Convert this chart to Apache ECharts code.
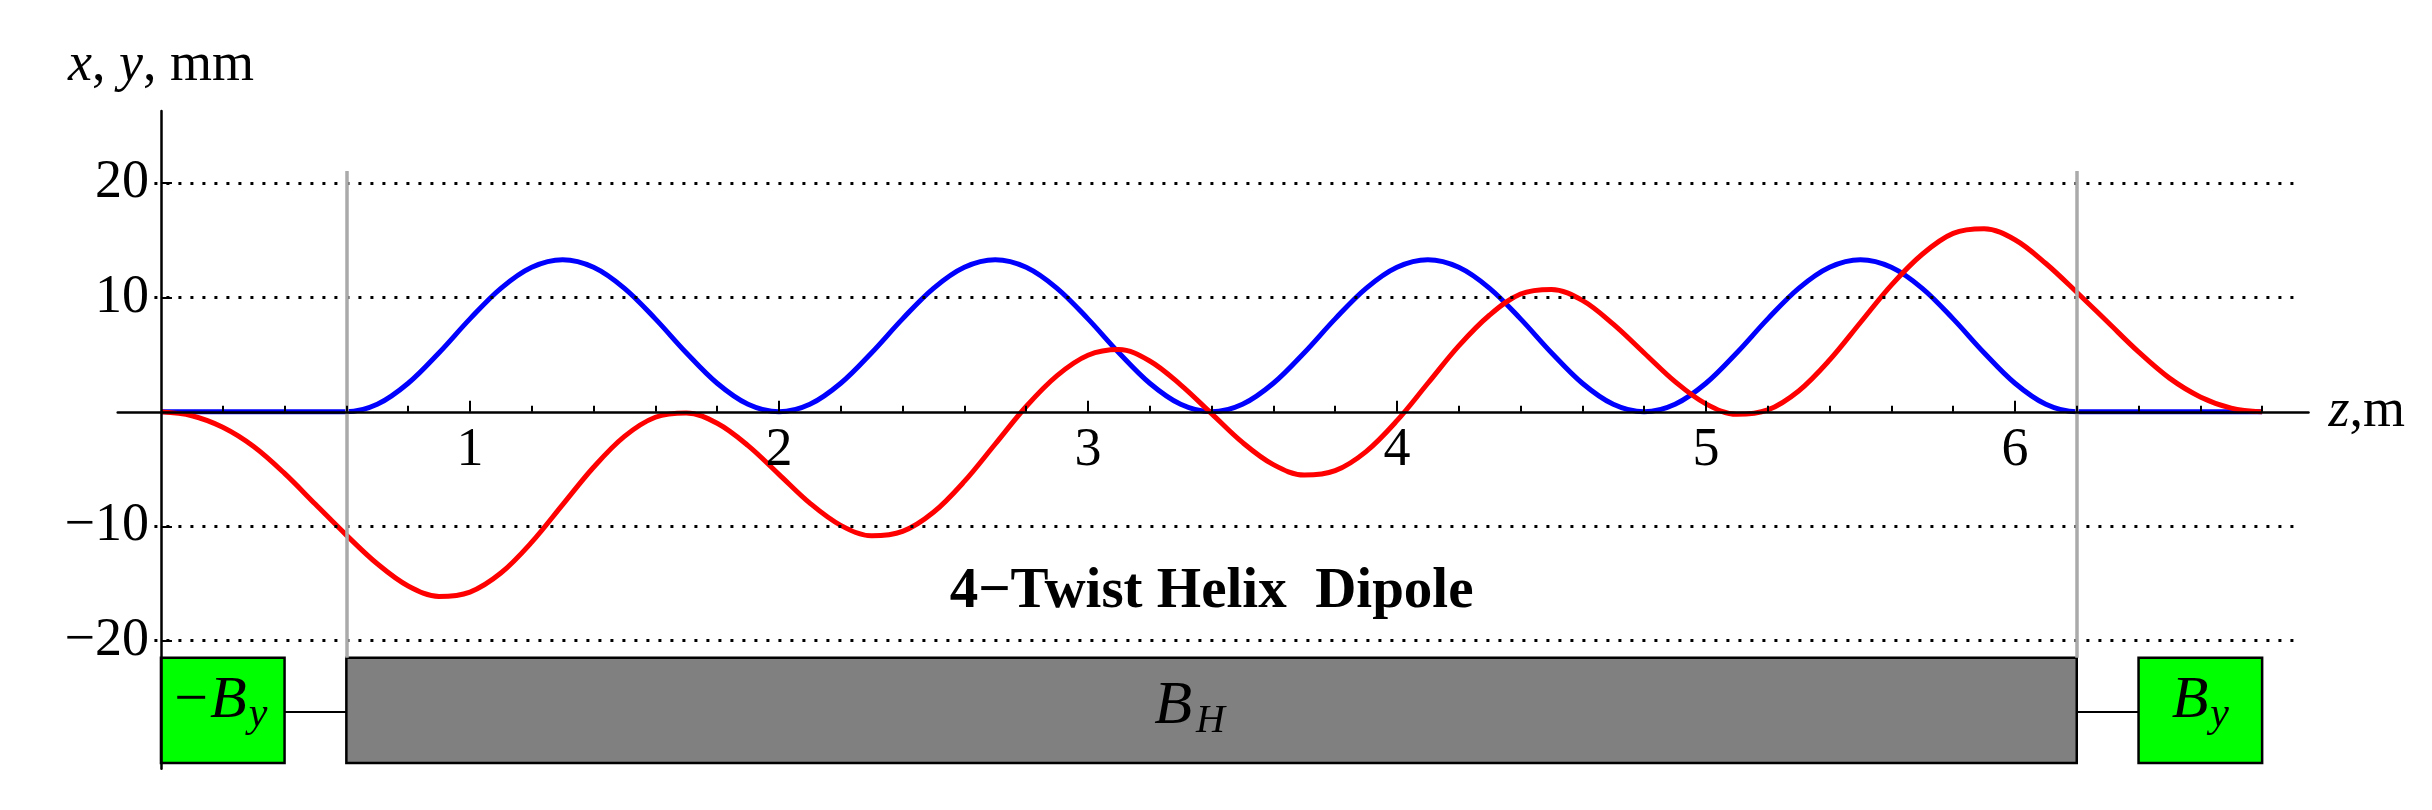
<!DOCTYPE html>
<html>
<head>
<meta charset="utf-8">
<title>4-Twist Helix Dipole</title>
<script src="https://cdn.jsdelivr.net/npm/echarts@6/dist/echarts.min.js"></script>
<style>
  html, body { margin: 0; padding: 0; background: #fff; }
  #chart { width: 2432px; height: 810px; }
</style>
</head>
<body>
<div id="chart"></div>
<script>
// z along the magnet, m
var zValues = [
  0, 0.1, 0.2, 0.3, 0.4, 0.5, 0.6, 0.7, 0.8, 0.9, 1, 1.1, 1.2, 1.3, 1.4, 1.5, 1.6, 1.7, 1.8, 1.9,
  2, 2.1, 2.2, 2.3, 2.4, 2.5, 2.6, 2.7, 2.8, 2.9, 3, 3.1, 3.2, 3.3, 3.4, 3.5, 3.6, 3.7, 3.8, 3.9,
  4, 4.1, 4.2, 4.3, 4.4, 4.5, 4.6, 4.7, 4.8, 4.9, 5, 5.1, 5.2, 5.3, 5.4, 5.5, 5.6, 5.7, 5.8, 5.9,
  6, 6.1, 6.2, 6.3, 6.4, 6.5, 6.6, 6.7, 6.8
]
// y (blue), mm
var yTrack = [
  0, 0, 0, 0, 0, 0, 0,
  0.66, 2.5, 5.17, 8.13, 10.8, 12.64, 13.3, 12.64, 10.8, 8.13, 5.17, 2.5, 0.66, 0,
  0.66, 2.5, 5.17, 8.13, 10.8, 12.64, 13.3, 12.64, 10.8, 8.13, 5.17, 2.5, 0.66, 0,
  0.66, 2.5, 5.17, 8.13, 10.8, 12.64, 13.3, 12.64, 10.8, 8.13, 5.17, 2.5, 0.66, 0,
  0.66, 2.5, 5.17, 8.13, 10.8, 12.64, 13.3, 12.64, 10.8, 8.13, 5.17, 2.5, 0.66, 0,
  0, 0, 0, 0, 0, 0
]
// x (red), mm
var xTrack = [
  0, -0.34, -1.35, -3.03, -5.38, -8.08, -10.77,
  -13.28, -15.22, -16.13, -15.75, -14.09, -11.39, -8.11, -4.84, -2.14, -0.47, -0.09, -1.0, -2.95, -5.46,
  -7.98, -9.92, -10.83, -10.45, -8.78, -6.08, -2.81, 0.47, 3.17, 4.95, 5.45, 4.45, 2.36, -0.15,
  -2.67, -4.61, -5.52, -5.14, -3.47, -0.77, 2.5, 5.77, 8.47, 10.3, 10.7, 9.75, 7.67, 5.15,
  2.64, 0.7, -0.21, 0.17, 1.83, 4.53, 7.81, 11.08, 13.78, 15.6, 16.0, 15.05, 12.97, 10.46,
  7.85, 5.24, 2.95, 1.31, 0.33, 0
]

var zMajorTicks = [1, 2, 3, 4, 5, 6]
var zMinorTicks = [0.2, 0.4, 0.6, 0.8, 1.2, 1.4, 1.6, 1.8, 2.2, 2.4, 2.6, 2.8, 3.2, 3.4, 3.6, 3.8,
  4.2, 4.4, 4.6, 4.8, 5.2, 5.4, 5.6, 5.8, 6.2, 6.4, 6.6, 6.8]
var yTicks = [-20, -10, 10, 20]

// magnets along z (m): kicker, helix, kicker
var magnetNames = ['-By', 'BH', 'By']
var magnetStart = [0, 0.6, 6.4]
var magnetEnd = [0.4, 6.2, 6.8]

var serif = '"Liberation Serif", "Times New Roman", serif'

var zMin = -0.14
var zMax = 6.95
var yMin = -31.2
var yMax = 26.3
var gridLeft = 117.7
var gridRight = 123.5
var gridTop = 111
var gridBottom = 41.2
var plotWidth = 2432 - gridLeft - gridRight
var plotHeight = 810 - gridTop - gridBottom
// both axes cross at the origin, not at the grid edges
var zAxisOffset = -plotHeight * (0 - yMin) / (yMax - yMin)
var yAxisOffset = -plotWidth * (0 - zMin) / (zMax - zMin)

var chart = echarts.init(document.getElementById('chart'))

function pairs(ys) {
  return zValues.map(function (z, i) { return [z, ys[i]] })
}

var boxTop = -21.5
var boxBottom = -30.7
var boxMid = -26.2

var boxStyle = {
  '-By': { color: '#00ff00', text: '{m|−}{b|B}{s|y}', offset: [-2, -5] },
  'BH': { color: '#808080', text: '{h|B}{t|H}', offset: [-22, 0] },
  'By': { color: '#00ff00', text: '{b|B}{s|y}', offset: [0, -5] }
}

var boxRich = {
  m: { fontFamily: serif, fontSize: 60, color: '#000', lineHeight: 60, padding: [0, 2, 8, 0] },
  b: { fontFamily: serif, fontStyle: 'italic', fontSize: 60, color: '#000', lineHeight: 60, padding: [0, 0, 8, 0] },
  s: { fontFamily: serif, fontStyle: 'italic', fontSize: 42, color: '#000', lineHeight: 42, verticalAlign: 'bottom', padding: [0, 0, 0, 2] },
  h: { fontFamily: serif, fontStyle: 'italic', fontSize: 62, color: '#000', lineHeight: 62, padding: [0, 0, 8, 0] },
  t: { fontFamily: serif, fontStyle: 'italic', fontSize: 40, color: '#000', lineHeight: 40, verticalAlign: 'bottom', padding: [0, 0, 0, 4] }
}

var areas = magnetNames.map(function (name, i) {
  var st = boxStyle[name]
  return [
    {
      coord: [magnetStart[i], boxTop],
      itemStyle: { color: st.color, borderColor: '#000', borderWidth: 2.5, opacity: 1 },
      label: { show: true, position: 'inside', formatter: st.text, rich: boxRich, offset: st.offset }
    },
    { coord: [magnetEnd[i], boxBottom] }
  ]
})

var gridLines = yTicks.map(function (v) {
  return [{ coord: [-0.06, v] }, { coord: [6.92, v] }]
})

var edgeLines = [
  [{ coord: [magnetStart[1], 21.05] }, { coord: [magnetStart[1], boxTop] }],
  [{ coord: [magnetEnd[1], 21.05] }, { coord: [magnetEnd[1], boxTop] }]
]

var connectors = [
  [{ coord: [magnetEnd[0], boxMid] }, { coord: [magnetStart[1], boxMid] }],
  [{ coord: [magnetEnd[1], boxMid] }, { coord: [magnetStart[2], boxMid] }]
]

var option = {
  animation: false,
  backgroundColor: '#fff',
  grid: {
    left: gridLeft,
    right: gridRight,
    top: gridTop,
    bottom: gridBottom,
    containLabel: false,
    outerBoundsMode: 'none'
  },
  xAxis: [
    {
      type: 'value',
      min: zMin,
      max: zMax,
      position: 'bottom',
      offset: zAxisOffset,
      z: 5,
      name: '{i|z},m',
      nameLocation: 'end',
      nameGap: 20,
      nameTextStyle: {
        fontFamily: serif,
        fontSize: 54,
        color: '#000',
        rich: { i: { fontFamily: serif, fontStyle: 'italic', fontSize: 54, color: '#000' } }
      },
      axisLine: { show: true, onZero: false, lineStyle: { color: '#000', width: 2.5 } },
      axisTick: { show: true, inside: true, length: 11, lineStyle: { color: '#000', width: 2 }, customValues: zMajorTicks },
      axisLabel: {
        show: true,
        customValues: zMajorTicks,
        margin: 12,
        fontFamily: serif,
        fontSize: 54,
        color: '#000'
      },
      splitLine: { show: false }
    },
    {
      type: 'value',
      min: zMin,
      max: zMax,
      position: 'bottom',
      offset: zAxisOffset,
      z: 5,
      axisLine: { show: false, onZero: false },
      axisTick: { show: true, inside: true, length: 6, lineStyle: { color: '#000', width: 2 }, customValues: zMinorTicks },
      axisLabel: { show: false },
      splitLine: { show: false }
    }
  ],
  yAxis: {
    type: 'value',
    min: yMin,
    max: yMax,
    position: 'left',
    offset: yAxisOffset,
    z: 5,
    name: '{i|x}, {i|y}, mm',
    nameLocation: 'end',
    nameGap: 18,
    nameTextStyle: {
      fontFamily: serif,
      fontSize: 54,
      color: '#000',
      rich: { i: { fontFamily: serif, fontStyle: 'italic', fontSize: 54, color: '#000' } }
    },
    axisLine: { show: true, onZero: false, lineStyle: { color: '#000', width: 2.5 } },
    axisTick: { show: true, inside: true, length: 11, lineStyle: { color: '#000', width: 2 }, customValues: yTicks },
    axisLabel: {
      show: true,
      customValues: yTicks,
      margin: 12,
      fontFamily: serif,
      fontSize: 54,
      color: '#000',
      formatter: function (v) { return v < 0 ? '−' + Math.abs(v) : String(v) }
    },
    splitLine: { show: false }
  },
  series: [
    {
      name: 'layout',
      type: 'line',
      data: [],
      z: 1,
      silent: true,
      markLine: {
        silent: true,
        symbol: ['none', 'none'],
        label: { show: false },
        data: gridLines.map(function (d) {
          return [Object.assign({ lineStyle: { color: '#000', width: 3, type: [3, 9], cap: 'butt', opacity: 1 } }, d[0]), d[1]]
        }).concat(edgeLines.map(function (d) {
          return [Object.assign({ lineStyle: { color: '#aaaaaa', width: 3.5, type: 'solid', opacity: 1 } }, d[0]), d[1]]
        })).concat(connectors.map(function (d) {
          return [Object.assign({ lineStyle: { color: '#000', width: 2, type: 'solid', opacity: 1 } }, d[0]), d[1]]
        }))
      },
      markArea: {
        silent: true,
        data: areas
      }
    },
    {
      name: 'y',
      type: 'line',
      data: pairs(yTrack),
      smooth: 0.35,
      showSymbol: false,
      z: 2,
      lineStyle: { color: '#0000ff', width: 5 }
    },
    {
      name: 'x',
      type: 'line',
      data: pairs(xTrack),
      smooth: 0.35,
      showSymbol: false,
      z: 3,
      lineStyle: { color: '#ff0000', width: 5 }
    },
    {
      name: 'title',
      type: 'scatter',
      data: [[3.4, -15.8]],
      symbolSize: 0,
      silent: true,
      itemStyle: { opacity: 1 },
      label: {
        show: true,
        position: 'inside',
        formatter: '4−Twist Helix  Dipole',
        fontFamily: serif,
        fontWeight: 'bold',
        fontSize: 57,
        color: '#000',
        opacity: 1
      }
    }
  ]
}

chart.setOption(option)
</script>
</body>
</html>
